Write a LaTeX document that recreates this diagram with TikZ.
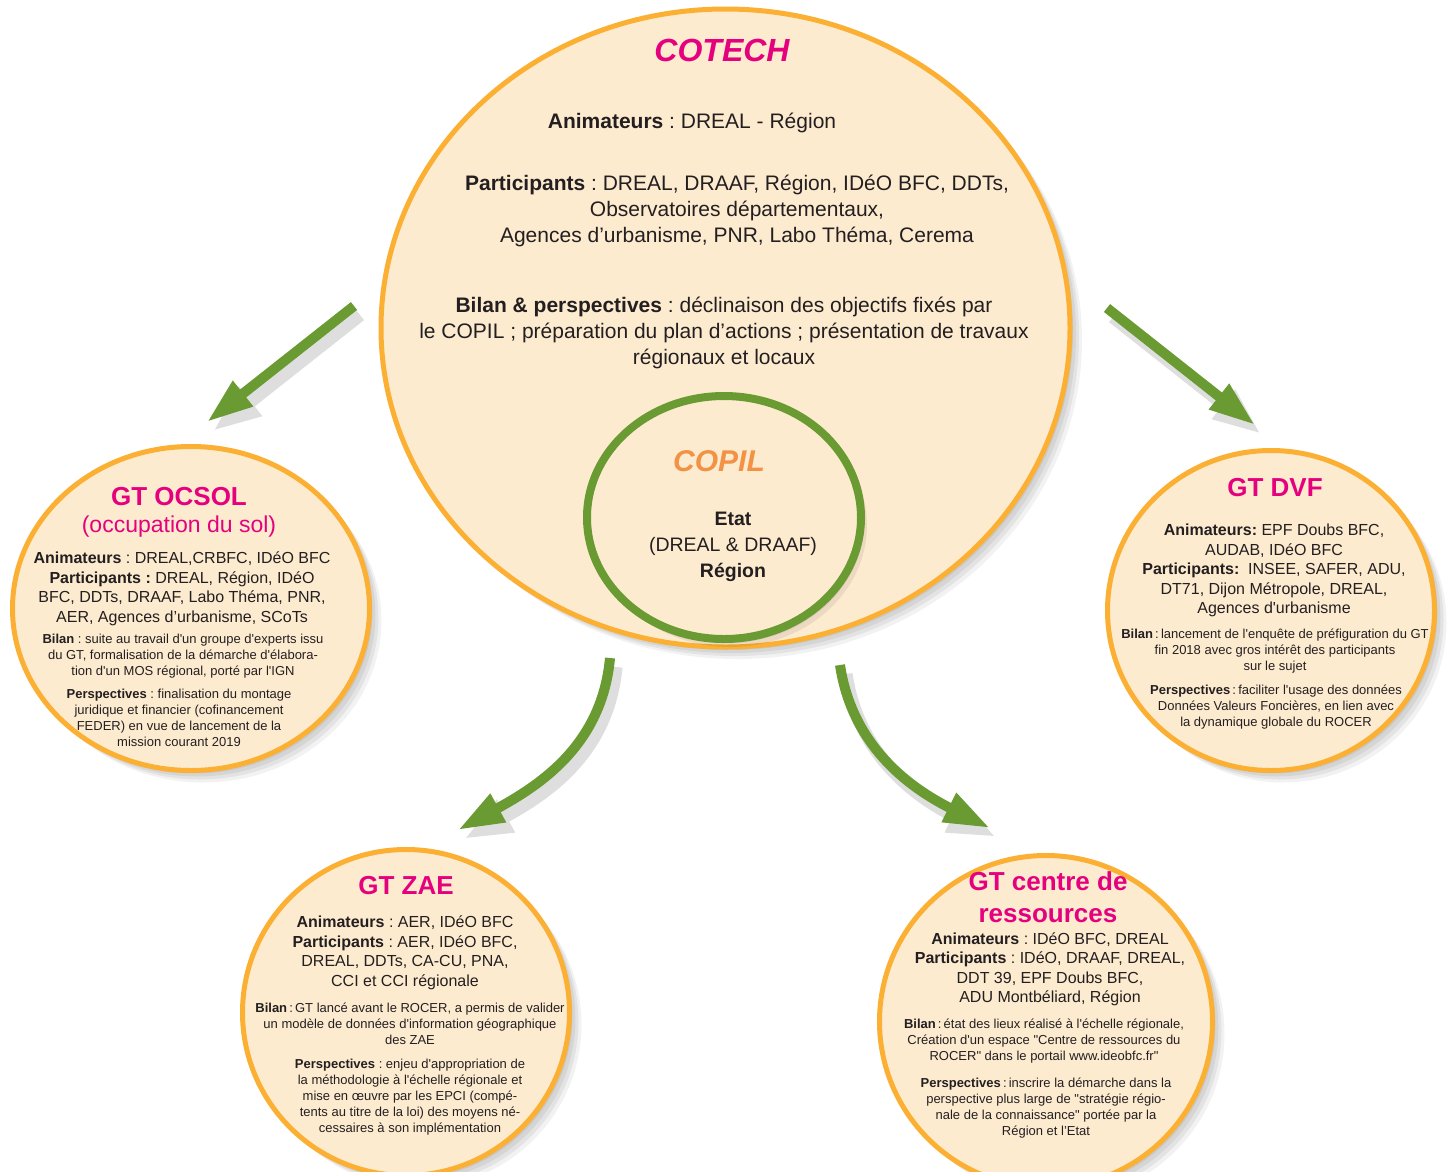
\documentclass[tikz,border=0pt]{standalone}
\usepackage{fontspec}
\setmainfont{Liberation Sans}[Ligatures=TeXOff]
\usetikzlibrary{arrows.meta,shadows,shapes.geometric}
\definecolor{peach}{HTML}{FDEBD0}
\definecolor{gold}{HTML}{FBB034}
\definecolor{pinkT}{HTML}{E5007E}
\definecolor{copilorange}{HTML}{F29245}
\definecolor{leaf}{HTML}{6A9A32}
\definecolor{ink}{HTML}{231F20}
\newcommand\fsz[2]{\fontsize{#1}{#2}\selectfont}
\frenchspacing
\begin{document}
\begin{tikzpicture}[x=1pt,y=-1pt,
  softshadow/.style={
    general shadow={fill=black,opacity=.06,shadow xshift=3pt,shadow yshift=-3pt},
    general shadow={fill=black,opacity=.06,shadow xshift=6pt,shadow yshift=-6pt},
    general shadow={fill=black,opacity=.06,shadow xshift=9pt,shadow yshift=-9pt},
    general shadow={fill=black,opacity=.05,shadow xshift=12pt,shadow yshift=-12pt}},
  gtcircle/.style={ellipse,draw=gold,line width=5pt,fill=peach,inner sep=0pt,softshadow},
  gttitle/.style={text=pinkT,font=\bfseries\fsz{26}{32},align=center},
  bodytext/.style={text=ink,font=\fsz{16}{19.5},align=center,yshift=-3pt},
  smalltext/.style={text=ink,font=\fsz{13}{16},align=center,yshift=-2pt},
  cotechtext/.style={text=ink,font=\fsz{21}{26},align=center,yshift=-2pt},
  bigarrow/.style={draw=leaf,line width=10pt,-{Triangle[width=30pt,length=46pt,fill=leaf]}},
  arrowshadow/.style={draw=black!13,line width=13pt,-{Triangle[width=34pt,length=48pt,fill=black!13]}},
]
\useasboundingbox (0,0) rectangle (1454,1171);
\fill[white] (0,0) rectangle (1454,1171);

% arrow end points
\coordinate (a1s) at (354,306);
\coordinate (a1e) at (207,422);
\coordinate (a2s) at (1107,308);
\coordinate (a2e) at (1255,425);
\coordinate (a3s) at (610,658);
\coordinate (a3e) at (458,830);
\coordinate (a4s) at (840,665);
\coordinate (a4e) at (990,828);

% arrow shadows
\begin{scope}[transform canvas={shift={(6pt,-9pt)}}]
  \draw[arrowshadow] (a1s) -- (a1e);
  \draw[arrowshadow] (a2s) -- (a2e);
  \draw[arrowshadow] (a3s) .. controls (602,745) and (540,785) .. (a3e);
  \draw[arrowshadow] (a4s) .. controls (852,745) and (908,787) .. (a4e);
\end{scope}

% COTECH
\node[ellipse,draw=gold,line width=5pt,fill=peach,inner sep=0pt,softshadow,
      minimum width=689pt,minimum height=638pt] (cotech) at (725.5,328) {};
% COPIL
\node[ellipse,draw=leaf,line width=8pt,fill=peach,inner sep=0pt,
      general shadow={fill=black,opacity=.07,shadow xshift=3pt,shadow yshift=-4pt},
      general shadow={fill=black,opacity=.07,shadow xshift=6pt,shadow yshift=-8pt},
      minimum width=274pt,minimum height=243pt] (copil) at (724,517.5) {};

% GT circles
\node[gtcircle,minimum width=357pt,minimum height=324pt] (ocsol) at (191,608.5) {};
\node[gtcircle,minimum width=327pt,minimum height=320pt] (dvf) at (1271,610.5) {};
\node[gtcircle,minimum width=327pt,minimum height=326pt] (zae) at (406,1012.5) {};
\node[gtcircle,minimum width=333pt,minimum height=332pt] (centre) at (1046,1021.5) {};

% arrows
\draw[bigarrow] (a1s) -- (a1e);
\draw[bigarrow] (a2s) -- (a2e);
\draw[bigarrow] (a3s) .. controls (602,745) and (540,785) .. (a3e);
\draw[bigarrow] (a4s) .. controls (852,745) and (908,787) .. (a4e);

% COTECH texts
\node[text=pinkT,font=\bfseries\itshape\fsz{32}{38}] (cotechT) at (722,50) {COTECH};
\node[cotechtext] (cotechA) at (692,121) {\textbf{Animateurs} : DREAL - Région};
\node[cotechtext] (cotechP) at (737,209) {\textbf{Participants} : DREAL, DRAAF, Région, IDéO BFC, DDTs,\\
  Observatoires départementaux,\\ Agences d’urbanisme, PNR, Labo Théma, Cerema};
\node[cotechtext] (cotechB) at (724,331) {\textbf{Bilan \& perspectives} : déclinaison des objectifs fixés par\\
  le COPIL ; préparation du plan d’actions ; présentation de travaux\\ régionaux et locaux};

% COPIL texts
\node[text=copilorange,font=\bfseries\itshape\fsz{30}{36}] (copilT) at (719,461) {COPIL};
\node[text=ink,font=\fsz{19.5}{26},align=center] (copilB) at (733,547) {\textbf{Etat}\\ (DREAL \& DRAAF)\\ \textbf{Région}};

% GT OCSOL
\node[gttitle] (ocsolT) at (179,497) {GT OCSOL};
\node[text=pinkT,font=\fsz{23}{28}] (ocsolS) at (179,527) {(occupation du sol)};
\node[bodytext] (ocsolA) at (182,586) {\textbf{Animateurs} : DREAL,CRBFC, IDéO BFC\\
  \textbf{Participants :} DREAL, Région, IDéO\\ BFC, DDTs, DRAAF, Labo Théma, PNR,\\
  AER, Agences d’urbanisme, SCoTs};
\node[smalltext] (ocsolB) at (183,654) {\textbf{Bilan} : suite au travail d'un groupe d'experts issu\\
  du GT, formalisation de la démarche d'élabora-\\ tion d'un MOS régional, porté par l'IGN};
\node[smalltext] (ocsolP) at (179,716) {\textbf{Perspectives} : finalisation du montage\\
  juridique et financier (cofinancement\\ FEDER) en vue de lancement de la\\ mission courant 2019};

% GT DVF
\node[gttitle] (dvfT) at (1275,488) {GT DVF};
\node[bodytext] (dvfA) at (1274,567.5) {\textbf{Animateurs:} EPF Doubs BFC,\\ AUDAB, IDéO BFC\\
  \textbf{Participants:}\ \ INSEE, SAFER, ADU,\\ DT71, Dijon Métropole, DREAL,\\ Agences d'urbanisme};
\node[smalltext] (dvfB) at (1275,649) {\textbf{Bilan}\,:\,lancement de l'enquête de préfiguration du GT\\
  fin 2018 avec gros intérêt des participants\\ sur le sujet};
\node[smalltext] (dvfP) at (1276,705) {\textbf{Perspectives}\,:\,faciliter l'usage des données\\
  Données Valeurs Foncières, en lien avec\\ la dynamique globale du ROCER};

% GT ZAE
\node[gttitle] (zaeT) at (406,886) {GT ZAE};
\node[bodytext] (zaeA) at (405,950) {\textbf{Animateurs} : AER, IDéO BFC\\
  \textbf{Participants} : AER, IDéO BFC,\\ DREAL, DDTs, CA-CU, PNA,\\ CCI et CCI régionale};
\node[smalltext] (zaeB) at (410,1022) {\textbf{Bilan}\,:\,GT lancé avant le ROCER, a permis de valider\\
  un modèle de données d'information géographique\\ des ZAE};
\node[smalltext] (zaeP) at (410,1095) {\textbf{Perspectives} : enjeu d'appropriation de\\
  la méthodologie à l'échelle régionale et\\ mise en œuvre par les EPCI (compé-\\
  tents au titre de la loi) des moyens né-\\ cessaires à son implémentation};

% GT centre de ressources
\node[gttitle] (centreT) at (1048,897) {GT centre de\\ ressources};
\node[bodytext] (centreA) at (1050,966.5) {\textbf{Animateurs} : IDéO BFC, DREAL\\
  \textbf{Participants} : IDéO, DRAAF, DREAL,\\ DDT 39, EPF Doubs BFC,\\ ADU Montbéliard, Région};
\node[smalltext] (centreB) at (1044,1039) {\textbf{Bilan}\,:\,état des lieux réalisé à l'échelle régionale,\\
  Création d'un espace "Centre de ressources du\\ ROCER" dans le portail www.ideobfc.fr"};
\node[smalltext] (centreP) at (1046,1106) {\textbf{Perspectives}\,:\,inscrire la démarche dans la\\
  perspective plus large de "stratégie régio-\\ nale de la connaissance" portée par la\\ Région et l’Etat};
\end{tikzpicture}
\end{document}
